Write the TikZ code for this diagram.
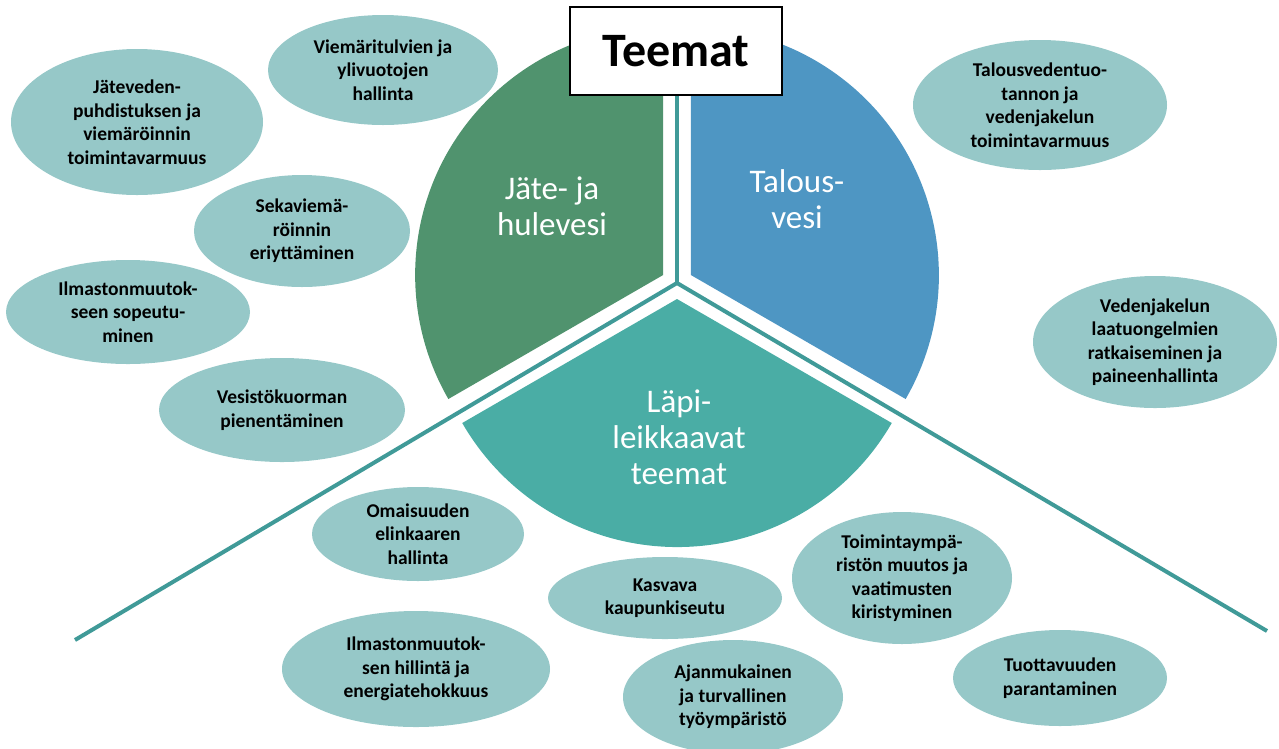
\documentclass[tikz,border=0pt]{standalone}
\usepackage{fontspec}
\setmainfont{Carlito}
\usetikzlibrary{shapes.geometric,calc}
\definecolor{jatefill}{RGB}{80,147,110}
\definecolor{talousfill}{RGB}{78,150,195}
\definecolor{lapifill}{RGB}{74,173,165}
\definecolor{topicfill}{RGB}{150,200,200}
\definecolor{splitcol}{RGB}{64,154,152}
\newcommand{\topicfont}{\fontsize{19.5}{23.5}\selectfont\bfseries}
\newcommand{\sectorfont}{\fontsize{33}{36}\selectfont}

\tikzset{
  topic/.style 2 args={ellipse, fill=topicfill, inner sep=0pt,
    minimum width=#1, minimum height=#2, align=center, font=\topicfont},
  sectorlabel/.style={text=white, align=center, font=\sectorfont},
  split/.style={draw=splitcol, line width=4pt}
}

\begin{document}
\begin{tikzpicture}[x=1pt,y=1pt]
        \useasboundingbox (0,0) rectangle (1279,-748);

        % pie
        \coordinate (hub) at (677,-283);
        \fill[jatefill] ($(hub)+(150:16)$) -- ++(90:248) arc[start angle=90, end angle=210, radius=248] -- cycle;
        \fill[talousfill] ($(hub)+(30:16)$) -- ++(-30:248) arc[start angle=-30, end angle=90, radius=248] -- cycle;
        \fill[lapifill] ($(hub)+(270:16)$) -- ++(210:248) arc[start angle=210, end angle=330, radius=248] -- cycle;

        \node[sectorlabel] (jate) at (552,-206) {Jäte- ja\\hulevesi};
        \node[sectorlabel] (talous) at (797,-199) {Talous-\\vesi};
        \node[sectorlabel] (lapi) at (679,-437) {Läpi-\\leikkaavat\\teemat};

        % title
        \node[draw=black, line width=1.5pt, fill=white, minimum width=212, minimum height=88,
              font=\fontsize{48}{50}\selectfont\bfseries] (title) at (676,-51) {Teemat};

        % dividing lines
        \coordinate (endL) at (75,-640);
        \coordinate (endR) at (1267,-631);
        \draw[split] (hub) -- (hub |- title.south);
        \draw[split] (hub) -- (endL);
        \draw[split] (hub) -- (endR);

        % jate- ja hulevesi
        \node[topic={230}{110}] (e1) at (383,-70) {Viemäritulvien ja\\ylivuotojen\\hallinta};
        \node[topic={252}{146}] (e2) at (137,-122) {Jäteveden-\\puhdistuksen ja\\viemäröinnin\\toimintavarmuus};
        \node[topic={216}{112}] (e3) at (302,-231) {Sekaviemä-\\röinnin\\eriyttäminen};
        \node[topic={244}{104}] (e4) at (128,-312) {Ilmastonmuutok-\\seen sopeutu-\\minen};
        \node[topic={246}{104}] (e5) at (282,-410) {Vesistökuorman\\pienentäminen};

        % talousvesi
        \node[topic={254}{130}] (e6) at (1040,-105) {Talousvedentuo-\\tannon ja\\vedenjakelun\\toimintavarmuus};
        \node[topic={244}{132}] (e7) at (1155,-342) {Vedenjakelun\\laatuongelmien\\ratkaiseminen ja\\paineenhallinta};

        % lapileikkaavat
        \node[topic={212}{94}] (e8) at (418,-534) {Omaisuuden\\elinkaaren\\hallinta};
        \node[topic={268}{116}] (e9) at (416,-669) {Ilmastonmuutok-\\sen hillintä ja\\energiatehokkuus};
        \node[topic={234}{82}] (e10) at (665,-598) {Kasvava\\kaupunkiseutu};
        \node[topic={220}{132}] (e11) at (902,-578) {Toimintaympä-\\ristön muutos ja\\vaatimusten\\kiristyminen};
        \node[topic={220}{114}] (e12) at (733,-697) {Ajanmukainen\\ja turvallinen\\työympäristö};
        \node[topic={214}{96}] (e13) at (1060,-678) {Tuottavuuden\\parantaminen};

    \end{tikzpicture}
\end{document}
